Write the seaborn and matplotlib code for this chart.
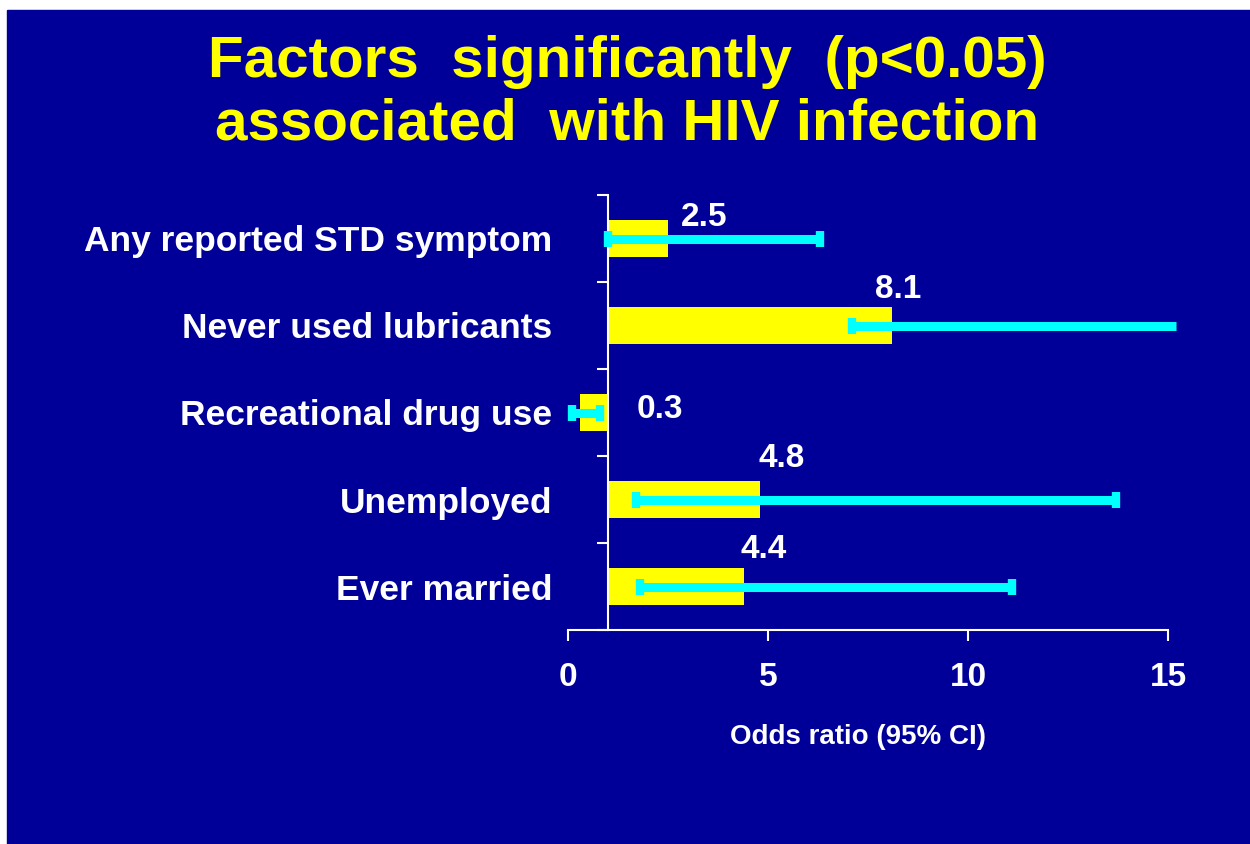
import pandas as pd
import seaborn as sns
import matplotlib.pyplot as plt
from matplotlib.patches import Rectangle

# data
factors = ['Any reported STD symptom', 'Never used lubricants', 'Recreational drug use',
           'Unemployed', 'Ever married']
odds_ratio = [2.5, 8.1, 0.3, 4.8, 4.4]
ci_low = [1.0, 7.1, 0.1, 1.7, 1.8]
ci_high = [6.3, 15.2, 0.8, 13.7, 11.1]
value_labels = ['2.5', '8.1', '0.3', '4.8', '4.4']
x_ticks = [0, 5, 10, 15]

# label placement (x in odds units, y offset in category units)
label_x = [3.4, 8.25, 2.3, 5.35, 4.9]
label_dy = [-0.24, -0.41, -0.03, -0.47, -0.42]

BLUE = '#000099'
YELLOW = '#FFFF00'
CYAN = '#00FFFF'
BASE = 1.0

sns.set_style('white')
plt.rcParams['font.family'] = ['Liberation Sans', 'DejaVu Sans']
plt.rcParams['font.weight'] = 'bold'

df = pd.DataFrame({'factor': factors, 'odds': odds_ratio})
df['delta'] = df['odds'] - BASE

fig = plt.figure(figsize=(12.5, 8.44), dpi=100, facecolor='white')
fig.patches.append(Rectangle((7 / 1250, 0), 1, 1 - 10 / 844, transform=fig.transFigure,
                             color=BLUE, zorder=-10))
ax = fig.add_axes([568 / 1250, 1 - 630 / 844, 600 / 1250, 435 / 844])
ax.set_facecolor('none')
ax.set_zorder(1)

sns.barplot(data=df, x='delta', y='factor', orient='h', left=BASE, color=YELLOW,
            saturation=1, width=0.43, errorbar=None, linewidth=0, ax=ax)

# confidence intervals
pos = list(range(len(factors)))
ax.hlines(pos, ci_low, ci_high, color=CYAN, linewidth=6.5, clip_on=False, zorder=3)
ax.plot(ci_low, pos, ls='none', marker='|', ms=12, mew=6, color=CYAN, clip_on=False, zorder=3)
capped = [(h, p) for h, p in zip(ci_high, pos) if h <= x_ticks[-1]]
ax.plot([c[0] for c in capped], [c[1] for c in capped], ls='none', marker='|', ms=12, mew=6,
        color=CYAN, clip_on=False, zorder=3)

for p, lx, dy, txt in zip(pos, label_x, label_dy, value_labels):
    ax.text(lx, p + dy, txt, color='white', fontsize=24, fontweight='bold',
            ha='center', va='center')

ax.set_xlim(0, 15)
ax.set_ylim(len(factors) - 0.5, -0.5)
ax.set_xticks(x_ticks)
ax.set_xticklabels([str(t) for t in x_ticks])
ax.set_yticks(pos)
ax.set_yticklabels(factors)
ax.set_yticks([p - 0.5 for p in pos] + [len(factors) - 0.5], minor=True)

for s in ['top', 'right']:
    ax.spines[s].set_visible(False)
ax.spines['left'].set_position(('data', BASE))
for s in ['left', 'bottom']:
    ax.spines[s].set_color('white')
    ax.spines[s].set_linewidth(1.5)

ax.tick_params(axis='x', colors='white', direction='out', length=8, width=1.5,
               labelsize=24, pad=15, bottom=True)
ax.tick_params(axis='y', which='major', length=0, labelsize=25.5, labelcolor='white', pad=40)
ax.tick_params(axis='y', which='minor', length=8, width=1.5, color='white', left=True)
for lbl in ax.get_xticklabels() + ax.get_yticklabels():
    lbl.set_fontweight('bold')

ax.set_ylabel('')
ax.set_xlabel('Odds ratio (95% CI)', color='white', fontsize=20, fontweight='bold')
ax.xaxis.set_label_coords(0.483, -0.215)
ax.xaxis.label.set_va('top')

fig.text(0.5016, 1 - 77 / 844, 'Factors  significantly  (p<0.05)', color=YELLOW,
         fontsize=42, fontweight='bold', ha='center', va='baseline')
fig.text(0.5016, 1 - 140 / 844, 'associated  with HIV infection', color=YELLOW,
         fontsize=42, fontweight='bold', ha='center', va='baseline')

fig.savefig('out.png', dpi=100, facecolor=fig.get_facecolor())
